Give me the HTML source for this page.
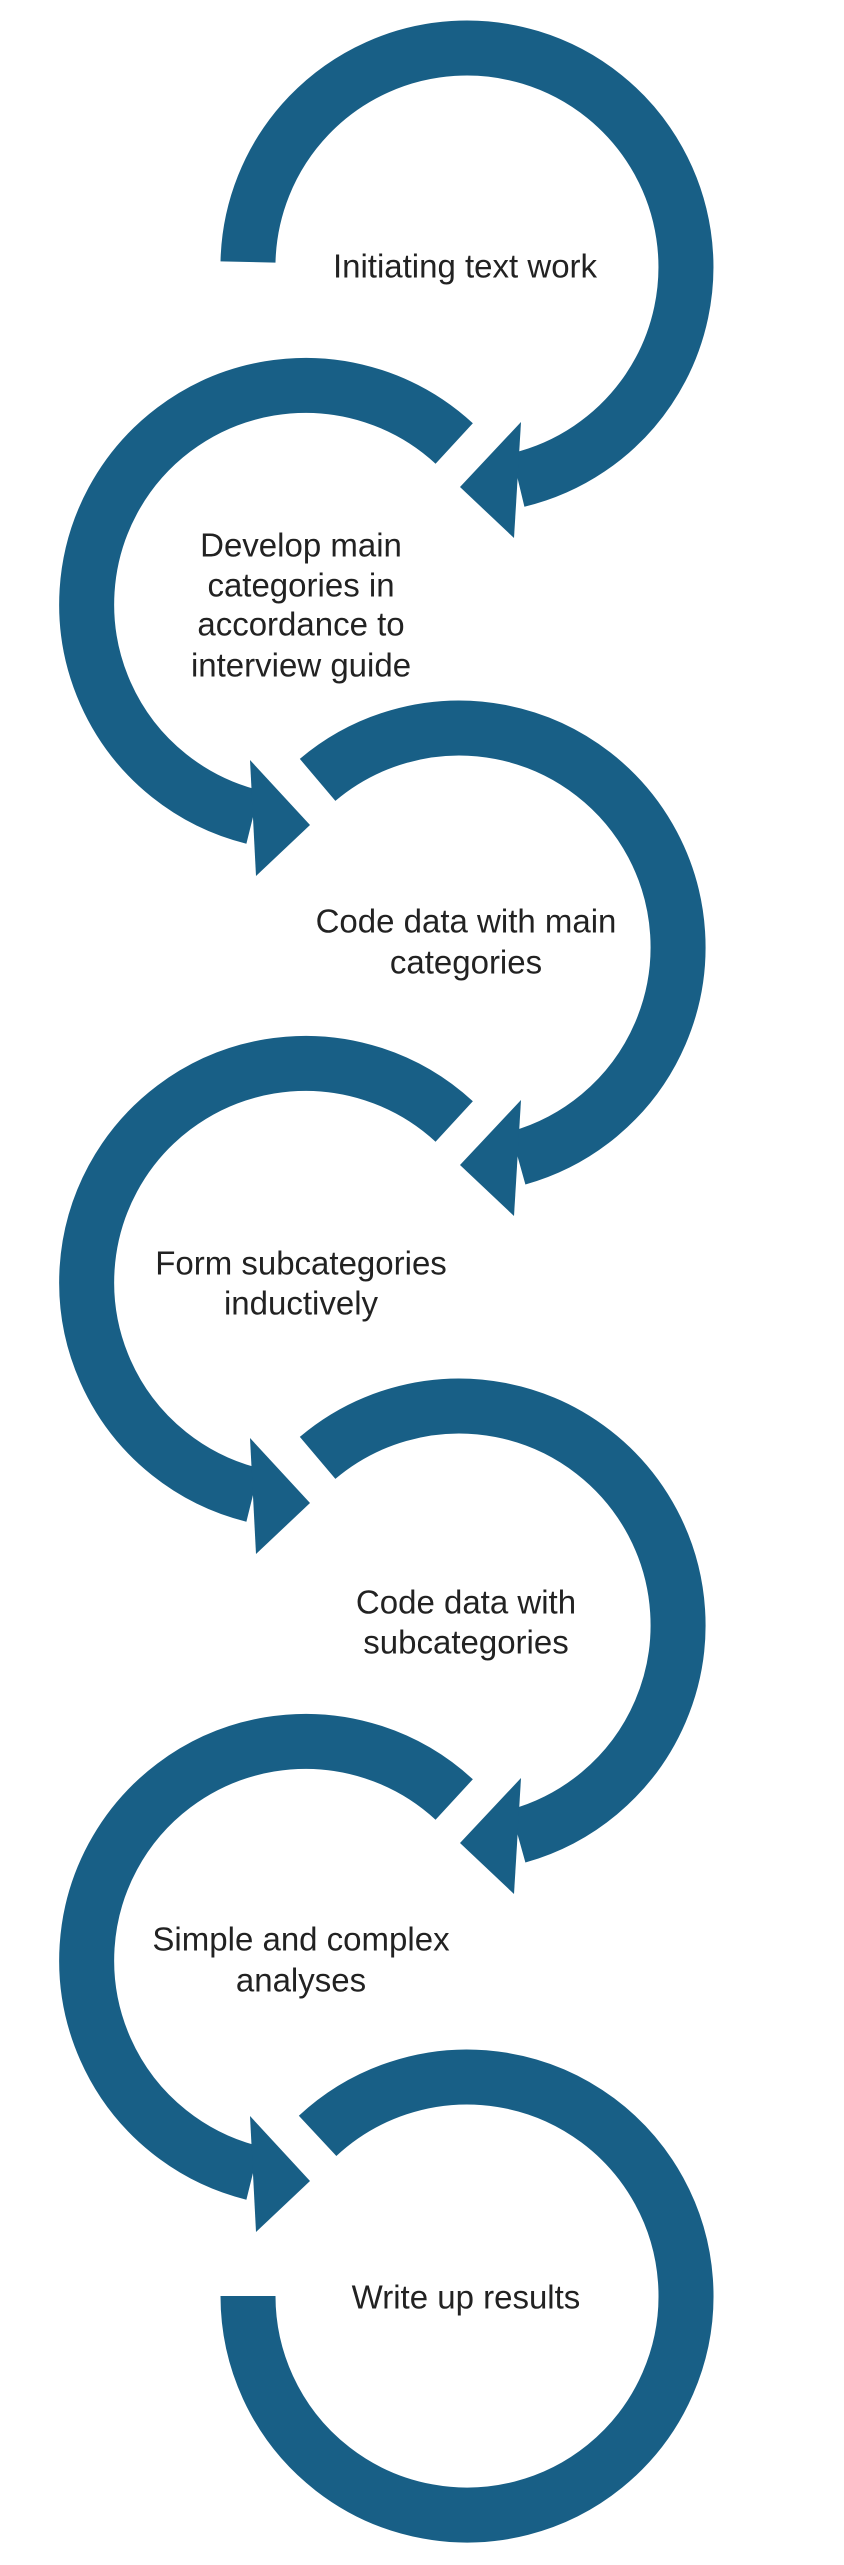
<!DOCTYPE html>
<html><head><meta charset="utf-8"><style>
html,body{margin:0;padding:0;background:#fff}
svg{display:block}
text{font-family:"Liberation Sans",sans-serif;font-size:33px;fill:#222}
</style></head><body>
<svg width="844" height="2565" viewBox="0 0 844 2565" xmlns="http://www.w3.org/2000/svg">
<g fill="none" stroke="#185f86" stroke-width="55" stroke-linecap="butt">
<path d="M248 262 A219 219 0 1 1 518 480"/>
<path d="M454.2 443.5 A219 219 0 1 0 253 817"/>
<path d="M317.6 779.9 A219 219 0 1 1 518 1158"/>
<path d="M454.2 1121.5 A219 219 0 1 0 253 1495"/>
<path d="M317.6 1457.9 A219 219 0 1 1 518 1836"/>
<path d="M454.2 1799.5 A219 219 0 1 0 253 2173"/>
<path d="M248 2296 A219 219 0 1 0 317.6 2135.9"/>
</g>
<g fill="#185f86">
<polygon points="521,422 514,538 460,487"/>
<polygon points="250,760 256,876 310,825"/>
<polygon points="521,1100 514,1216 460,1165"/>
<polygon points="250,1438 256,1554 310,1503"/>
<polygon points="521,1778 514,1894 460,1843"/>
<polygon points="250,2116 256,2232 310,2181"/>
</g>
<g text-anchor="middle" dominant-baseline="central">
<text x="465" y="266">Initiating text work</text>
<text x="301" y="545">Develop main</text>
<text x="301" y="585">categories in</text>
<text x="301" y="624">accordance to</text>
<text x="301" y="665">interview guide</text>
<text x="466" y="921">Code data with main</text>
<text x="466" y="962">categories</text>
<text x="301" y="1263">Form subcategories</text>
<text x="301" y="1303">inductively</text>
<text x="466" y="1602">Code data with</text>
<text x="466" y="1642">subcategories</text>
<text x="301" y="1939">Simple and complex</text>
<text x="301" y="1980">analyses</text>
<text x="466" y="2297">Write up results</text>
</g>
</svg>
</body></html>
